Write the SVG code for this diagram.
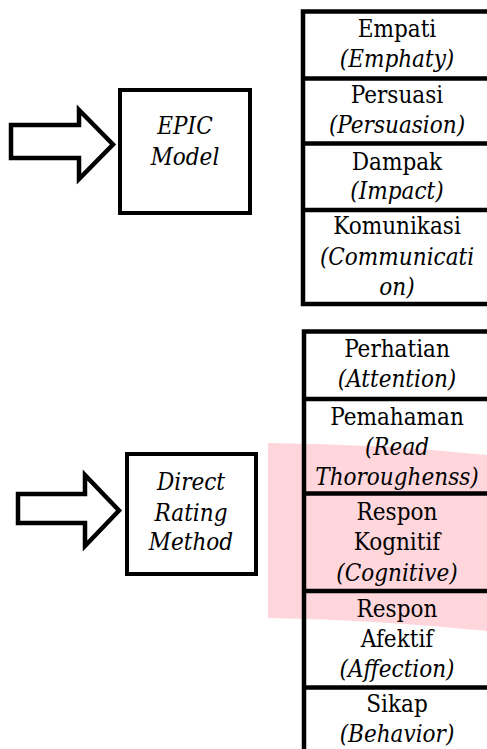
<svg xmlns="http://www.w3.org/2000/svg" width="487" height="749" viewBox="0 0 487 749">
<style>
text{font-family:"DejaVu Serif Condensed","DejaVu Serif",serif;font-stretch:condensed;font-size:24px;fill:#000;text-anchor:middle}
.i{font-style:italic}
.box{fill:#fff;stroke:#000;stroke-width:4}
.ln{stroke:#000;stroke-width:4.5;fill:none}
.arw{fill:#fff;stroke:#000;stroke-width:4.5;stroke-linejoin:miter;stroke-miterlimit:10}
</style>
<rect width="487" height="749" fill="#fff"/>
<path id="highlight" d="M268,443 Q380,444 487,455 L487,631 Q380,620 268,618 Z" fill="#ffd6db"/>
<g id="connectors">
<path class="arw" d="M11,125 H79 V110 L113,144.5 L79,179 V158 H11 Z"/>
<path class="arw" d="M18,494 H85 V475 L119,510.5 L85,546 V523 H18 Z"/>
</g>
<g id="epic-model">
<rect class="box" x="120" y="90" width="130" height="123"/>
<text class="i" x="185" y="134">EPIC</text>
<text class="i" x="185" y="165">Model</text>
</g>
<g id="direct-rating-method">
<rect class="box" x="127" y="454" width="129" height="120"/>
<text class="i" x="191" y="490">Direct</text>
<text class="i" x="191" y="521">Rating</text>
<text class="i" x="191" y="550">Method</text>
</g>
<g id="table-epic">
<path class="ln" d="M492,11.5 H303 V304 H492 M303,78.5 H492 M303,143.5 H492 M303,210 H492"/>
<g id="empati"><text x="397" y="37">Empati</text><text class="i" x="397" y="67">(Emphaty)</text></g>
<g id="persuasi"><text x="397" y="103">Persuasi</text><text class="i" x="397" y="133">(Persuasion)</text></g>
<g id="dampak"><text x="397" y="170">Dampak</text><text class="i" x="397" y="199">(Impact)</text></g>
<g id="komunikasi"><text x="397" y="234">Komunikasi</text><text class="i" x="397" y="265">(Communicati</text><text class="i" x="397" y="295">on)</text></g>
</g>
<g id="table-drm">
<path class="ln" d="M492,331.5 H304 V749 M304,399 H492 M304,493.5 H492 M304,591 H492 M304,687.5 H492"/>
<g id="perhatian"><text x="397" y="357">Perhatian</text><text class="i" x="397" y="387">(Attention)</text></g>
<g id="pemahaman"><text x="397" y="425">Pemahaman</text><text class="i" x="397" y="455">(Read</text><text class="i" x="397" y="485">Thoroughenss)</text></g>
<g id="respon-kognitif"><text x="397" y="520">Respon</text><text x="397" y="550">Kognitif</text><text class="i" x="397" y="581">(Cognitive)</text></g>
<g id="respon-afektif"><text x="397" y="617">Respon</text><text x="397" y="647">Afektif</text><text class="i" x="397" y="677">(Affection)</text></g>
<g id="sikap"><text x="397" y="712">Sikap</text><text class="i" x="397" y="742">(Behavior)</text></g>
</g>
</svg>
